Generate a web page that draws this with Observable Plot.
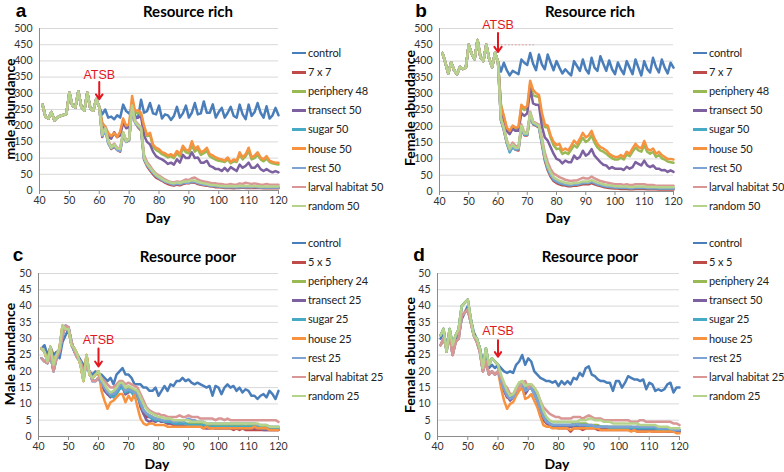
<!DOCTYPE html>
<html><head><meta charset="utf-8">
<script src="https://cdn.jsdelivr.net/npm/d3@7"></script>
<script src="https://cdn.jsdelivr.net/npm/@observablehq/plot@0.6"></script>
<style>
body{margin:0;background:#fff;}
#root{position:relative;width:784px;height:472px;overflow:hidden;font-family:Lato,sans-serif;color:#000;}
.abs{position:absolute;white-space:nowrap;}
.c{transform:translate(-50%,-50%);}
.letter{font-family:"Liberation Sans",Arial,sans-serif;font-weight:bold;font-size:19px;}
.title{font-weight:bold;font-size:15px;}
.ylab{font-weight:bold;font-size:14px;transform:translate(-50%,-50%) rotate(-90deg);}
.xlab{font-weight:bold;font-size:14px;}
.leg{font-size:11px;letter-spacing:-0.15px;line-height:14px;color:#222;}
.sw{display:inline-block;width:14px;height:2.5px;vertical-align:middle;margin-right:2px;position:relative;top:-1px;}
</style></head>
<body><div id="root"></div>
<script>
// ---------- shared axes ----------
const days = d3.range(41, 121);
const xTicks = [40, 50, 60, 70, 80, 90, 100, 110, 120];
const yTicksRich = [0, 50, 100, 150, 200, 250, 300, 350, 400, 450, 500];
const yTicksPoor = [0, 5, 10, 15, 20, 25, 30, 35, 40, 45, 50];
const colors = ["#4A7EBB", "#BE4B48", "#98B954", "#7D60A0", "#46AAC5", "#F69240", "#7FA2D4", "#D99694", "#B6D38C"];

const namesA = ["control", "7 x 7", "periphery 48", "transect 50", "sugar 50", "house 50", "rest 50", "larval habitat 50", "random 50"];
const namesB = namesA;
const namesC = ["control", "5 x 5", "periphery 24", "transect 25", "sugar 25", "house 25", "rest 25", "larval habitat 25", "random 25"];
const namesD = ["control", "5 x 5", "periphery 24", "transect 50", "sugar 25", "house 25", "rest 25", "larval habitat 25", "random 25"];

// ---------- panel a: male, resource rich (days 41-60 shared, then 61-120) ----------
const preA = [265,228,222,242,216,226,230,233,236,302,262,256,306,258,246,302,254,246,282,258];
const ctlA = [235,250,225,228,220,232,225,265,245,238, 255,230,225,280,240,245,270,238,235,262, 222,235,232,218,230,258,225,238,262,225, 240,270,235,238,275,240,240,266,225,242, 255,225,240,258,230,225,265,235,220,265, 230,242,270,240,225,260,222,232,255,232];
const r7A = [165,195,148,128,135,125,120,175,150,155, 255,210,195,185,95,75,62,50,40,35, 30,24,20,17,15,18,16,20,22,22, 25,24,20,18,16,15,13,12,10,10, 9,8,8,8,7,8,8,9,8,8, 8,8,8,8,7,7,7,7,7,7];
const perA = [210,195,170,165,175,165,178,215,198,200, 275,238,240,235,190,168,172,135,125,120, 112,108,102,106,100,115,105,130,118,115, 140,120,128,110,115,122,105,100,95,92, 90,88,96,84,90,88,110,96,105,122, 96,100,110,96,90,98,88,84,82,80];
const traA = [200,182,165,160,180,165,170,210,192,195, 262,222,226,228,170,150,142,120,106,100, 96,90,82,86,80,96,86,110,100,100, 118,100,102,86,86,92,76,72,66,66, 60,70,60,72,66,60,80,70,76,86, 70,70,80,66,60,66,60,56,60,56];
const sugA = [170,190,150,132,140,128,125,178,152,158, 258,212,200,190,100,80,68,55,45,40, 34,28,25,22,20,22,20,24,26,26, 28,28,25,22,20,18,16,15,14,13, 12,11,11,12,11,10,11,12,11,12, 11,12,11,10,10,10,10,10,10,10];
const houA = [205,198,178,168,178,165,182,222,200,205, 292,245,248,240,200,172,178,142,132,128, 118,115,108,112,106,122,112,138,126,122, 152,128,136,118,122,132,112,108,102,98, 96,92,102,88,96,92,118,102,112,132, 102,108,118,102,96,106,92,88,86,86];
const resA = [168,185,145,130,138,125,122,176,150,156, 256,208,198,188,98,78,66,54,44,38, 32,27,24,20,18,21,19,23,24,24, 27,26,23,20,18,17,15,14,13,12, 11,10,10,11,10,10,10,11,10,11, 10,11,10,9,9,9,9,9,9,9];
const larA = [175,195,155,135,145,132,130,180,155,160, 262,215,205,195,110,88,76,62,52,46, 40,34,30,26,25,28,26,30,34,32, 38,40,34,30,28,26,24,22,22,20, 20,18,18,20,18,18,22,20,24,22, 20,22,20,18,18,20,18,18,18,18];
const ranA = [172,192,152,132,142,130,128,180,152,158, 262,212,202,192,102,82,70,58,48,42, 36,30,27,24,22,25,23,27,28,28, 32,30,27,24,22,20,18,17,16,15, 14,13,13,14,13,13,14,15,14,14, 13,14,13,12,12,12,12,12,12,12];

// ---------- panel b: female, resource rich ----------
const preB = [425,395,362,396,372,360,382,376,380,450,422,406,465,412,400,450,406,382,425,398];
const ctlB = [368,395,372,356,370,365,360,405,395,388, 425,392,372,420,390,375,420,395,372,400, 380,362,375,365,356,400,385,370,405,375, 362,410,380,370,415,392,370,402,375,360, 396,375,360,400,380,360,405,380,356,400, 376,365,410,382,365,405,380,362,395,380];
const r7B = [218,188,148,124,138,128,126,196,172,172, 236,206,202,196,145,95,65,45,32,26, 22,19,18,16,16,18,18,20,22,22, 22,26,22,19,17,14,12,11,10,9, 9,8,8,8,7,7,8,8,8,8, 7,7,7,7,6,6,6,6,6,6];
const perB = [268,228,192,182,198,192,194,260,250,255, 330,295,292,290,232,198,196,165,142,130, 132,115,120,115,128,142,135,150,165,152, 158,172,150,135,126,122,116,108,102,98, 98,104,98,114,108,122,135,126,122,142, 122,116,122,106,112,102,98,92,90,88];
const traB = [256,215,186,176,192,186,186,240,232,240, 315,270,266,265,200,166,156,136,116,100, 96,86,95,90,90,110,100,106,125,110, 116,130,110,100,90,82,80,70,75,70, 70,70,66,76,70,75,90,85,80,95, 80,75,80,70,70,65,66,60,65,60];
const sugB = [220,190,150,120,136,128,130,198,174,174, 238,208,204,198,150,100,70,50,36,30, 26,23,21,19,19,21,21,23,26,26, 26,30,26,22,20,17,15,14,13,12, 12,11,11,11,10,10,11,11,11,11, 10,10,10,10,9,9,9,9,9,9];
const houB = [262,232,196,186,202,196,198,266,256,262, 340,312,302,296,242,206,202,172,152,142, 146,126,132,126,140,156,146,162,180,166, 172,186,162,146,136,132,126,116,110,106, 106,112,106,122,116,132,146,136,132,155, 132,126,132,116,122,112,106,100,100,98];
const resB = [222,192,152,125,140,130,130,200,176,176, 240,210,205,200,152,102,72,52,38,32, 28,25,23,21,20,22,22,24,27,27, 27,31,27,23,21,18,16,15,14,13, 13,12,12,12,11,11,12,12,12,12, 11,11,11,11,10,10,10,10,10,10];
const larB = [226,196,158,134,150,140,138,206,182,180, 245,215,210,205,165,120,90,68,55,50, 44,40,36,34,32,34,34,38,42,40, 40,46,40,36,32,30,28,26,24,22, 22,22,20,22,20,20,22,22,22,22, 20,20,20,18,18,18,18,18,18,18];
const ranB = [224,194,154,130,144,134,134,202,178,178, 242,212,207,202,158,108,78,58,44,38, 33,30,27,25,24,26,26,28,31,31, 31,35,31,27,25,22,20,19,18,16, 16,15,15,15,14,14,15,15,15,15, 14,14,14,14,13,13,13,13,13,13];

// ---------- panel c: male, resource poor ----------
const ctlC = [27,28,25,27.5,25,26,24,29,31,33, 28,26,25,23.5,22,21,20,19,20,19, 19,18,17,18,16,19,20,21,19,19, 18,16,16,16,15,15,14,14,15,12.5, 14,15.5,14,16,15.5,17,17,18,17,17.5, 16.5,16,16.5,16,15.5,15,15.5,12.5,15.5,15, 13,15,16,15,15.5,14,15,13.5,14.5,14, 12.5,12.5,11.5,12.5,13,12,14,13,11.5,14];
const preC1 = [27,26,23,27.5,22,25,27,34,33,33,28,27,25,22,17,25,19,18,19,20];
const preC2 = [24,23,22.5,25,20,24,26,31,34,33.5,29,26,24,23,20,21,20,17,17,18];
const r5C = [16,14.5,13,12.5,13,14,15,15.5,13,14, 14,13,13,9,7,6,6,5.5,5,5, 4.5,4.5,4,4,3.5,3.5,3.5,3,3,3, 3,3,3,3,2.5,2.5,2.5,2.5,2.5,2.5, 2.5,2.5,2.5,2.5,2,2.5,2,2.5,2,2, 2,2,2,2,2,2,2,2,2,2];
const perC = [17,15,14,13,13.5,14.5,16,16,14,15, 14.5,14,13.5,11,8,7,6.5,6,5.5,5.5, 5,5,4.5,5,4.5,4.5,4.5,4,4,4, 4,4,4,4,3.5,3.5,3.5,3.5,3.5,3.5, 3.5,3.5,3.5,3.5,3.5,3.5,3.5,3.5,3,3.5, 3.5,3.5,3.5,3,3,3,3,2.5,2.5,2.5];
const traC = [16,14,13,12,13,14,15,15,13,13.5, 14,12,13,10,7,5,4.5,5,4.5,5, 4.5,4.5,4,4,4,3.5,3.5,3.5,3,3, 3,3,3,3,3,2.5,2.5,3,2.5,2.5, 2.5,2.5,2.5,2.5,2.5,2.5,2.5,2.5,2.5,2.5, 2.5,2.5,2.5,2.5,2,2,2,2,2,2];
const sugC = [17,15,14,12.5,12,13,14.5,15,13.5,14, 13.5,12.5,12,10,8,7,6,5.5,5,5, 5,4.5,4.5,4.5,4,4,4,4,4,3.5, 3.5,3.5,3.5,3.5,3.5,3,3,3,3,3, 3,3,3,3,3,3,3,3,3,3, 3,3,3,2.5,2.5,2.5,2.5,2.5,2.5,2.5];
const houC = [14,11,8.5,10.5,11,12,13,13,10.5,12.5, 11,13,9,5.5,4,3.5,4,4,3.5,3.5, 3.5,3.5,3,3,3,3,3,3,3,3, 3,3,3,3,2.5,3,2.5,2.5,2.5,2.5, 2.5,2.5,2.5,2.5,2.5,2.5,2.5,2.5,2.5,2.5, 2.5,3,2.5,2.5,2.5,2.5,2,2,2,2];
const resC = [16.5,15,13.5,13,13,14,15.5,16,14,14.5, 14,13.5,13,10.5,8,7,6.5,6,5.5,5.5, 5,5,5,5,4.5,4.5,5,4.5,5,5.5, 5,5,4.5,4.5,4.5,4,4,4,4,4, 4,4,4,4,4,4,4,4,4,4, 4,4,3.5,3.5,3.5,3.5,3,3,3,3];
const larC = [18,17,16,15,15,16,17,17,16,16.5, 16,15.5,15,13,11,9,8,7.5,7,7, 6.5,6.5,6,6,6,6,6.5,6,6,6.5, 6,6,6,5.5,5.5,5.5,5.5,5.5,5,5.5, 5.5,5,5.5,5,5,5,5,5,5,5, 5,5,5,5,5,5,5,5,5,4.5];
const ranC = [17.5,16,14.5,13.5,14,15,16.5,16.5,15,15.5, 15,14.5,14,12,10,8.5,7.5,7,6.5,6, 6,5.5,5.5,5.5,5,5,5,5,5,5, 4.5,4.5,4.5,4.5,4.5,4,4,4,4,4, 4,4,4,4,4,4,4,4,4,4, 4,4,4,3.5,3.5,3.5,3,3,3,3];

// ---------- panel d: female, resource poor ----------
const ctlD = [30,32,28,32,27,30,31,36,38,40, 36,32,30,27,23,25,21,22,21,22, 21,20,19.5,20,19.5,22,23,25,22,24, 23,20,19,18,17.5,17,17,16.5,17,15.5, 17,16,17,16,18,17.5,19.5,18.5,21,21.5, 19,18.5,17.5,17,17,16.5,16.5,14,17,17, 15,16.5,18.5,18,17.5,17.5,17,17.5,14.5,16.5, 16,14,14.5,14,14.5,16,16.5,13.5,15,15];
const preD1 = [31,33,26,33,28,31,33,40,41,42,36,31,30,27,21,27,22,24,23,22];
const preD2 = [28,30,27,31,25,29,30,37,38,39,35,31,29,26,20,23,19,20,19,20];
const r5D = [17,14,12,11.5,12,14,16,16,14,15, 15,13.5,11,8,5,4,3.5,3,3,2.5, 2.5,2.5,2.5,1.5,2.5,2.5,2.5,2,2.5,2.5, 2.5,2.5,2,2,2,2,2,2,2,2, 2,2,2,2,2,1.5,1.5,1.5,1.5,2, 1.5,1.5,1.5,1.5,1.5,1.5,1.5,1.5,1.5,1.5];
const perD = [18,15,13,12,12.5,14.5,16.5,17,15,15.5, 15.5,14,12,9,6,4.5,4,3.5,3.5,3.5, 3.5,3.5,3.5,3.5,4,4,4,4,4,3.5, 3.5,3.5,3.5,3,3,3,3,3,3,3, 3,3,3,3,2.5,3,3,3,3,2.5, 2.5,2.5,2.5,2.5,2,2,2,2,2,2];
const traD = [17,14,12.5,11,12,14,15.5,16,13,14.5, 15,13,11,8.5,6,4.5,3.5,3,3,3, 3,3,3,3,3,3,3,3,3,3, 3,3,3,2.5,2.5,2.5,2.5,2.5,2.5,2.5, 2.5,2.5,2.5,2,2,2,2,2,2,2, 2,2,2,2,2,1.5,1.5,1.5,1.5,1.5];
const sugD = [18,15,13,12,12,14,16,16.5,14.5,15, 15,13.5,11.5,9,6.5,5,4,3.5,3.5,3.5, 3.5,3.5,3.5,3.5,3.5,3.5,3.5,3.5,3.5,3, 3,3,3,3,3,3,2.5,2.5,2.5,2.5, 2.5,2.5,2.5,2.5,2.5,2.5,2.5,2.5,2.5,2.5, 2.5,2.5,2,2,2,2,2,2,2,2];
const houD = [15,11,8.5,10,10.5,12.5,14,15,11.5,12, 13,11,9,6,3.5,3,3,2.5,2.5,2.5, 2.5,2.5,2.5,2,2.5,2.5,2.5,2.5,2.5,2.5, 2.5,2.5,2.5,2,2,2,2,2,2,2, 2,2,2,1.5,2,1.5,1.5,1.5,1.5,1.5, 1.5,1.5,1.5,1.5,1.5,1.5,1.5,1.5,1,1];
const resD = [17,14.5,12.5,11.5,12,14,15.5,16,14,14.5, 15,13,11,8.5,6,4.5,4,3.5,3.5,3.5, 3.5,3.5,3.5,3.5,3.5,4,3.5,3.5,3.5,3.5, 3.5,3,3,3,3,3,3,3,3,3, 3,3,3,3,3,3,3,3,3,3, 3,3,2.5,2.5,2.5,2.5,2.5,2,2,2];
const larD = [18,16,15,13,13,14,15,16.5,17,15, 16,15,13.5,11,9,8,7,6.5,6,6, 5.5,5.5,5.5,5.5,6,6,6,5.5,6,6.5, 6,5.5,5.5,5.5,5,5,5,5,5,5, 5,5,5,4.5,4.5,4.5,5,5,4.5,4.5, 4.5,4.5,4.5,4.5,4.5,4.5,4.5,4,4,3.5];
const ranD = [19,16.5,14,12.5,13,15,16.5,17,15.5,16, 16,15,13.5,11,8,6,5,4.5,4.5,4.5, 4.5,4.5,4.5,4.5,4.5,4.5,5,5,5,5.5, 5.5,5,5,5,4.5,4.5,4.5,4,4,4, 4,4,4,4,4,4,3.5,3.5,3.5,3.5, 3.5,3.5,3,3,3,3,2.5,2.5,2.5,2.5];

// ---------- annotation values (day of ATSB, text level, arrow from/to) ----------
const atsbDay = 60;
const atsbA = {text: 358, from: 335, to: 282};
const atsbB = {text: 510, from: 486, to: 428, dotted: 450, dottedEnd: 73};
const atsbC = {text: 29.5, from: 27, to: 21.5};
const atsbD = {text: 32.5, from: 29.5, to: 24.5};

// ---------- build ----------
const root = document.getElementById("root");
function addText(cls, txt, x, y) {
  const d = document.createElement("div");
  d.className = "abs " + cls;
  d.textContent = txt;
  d.style.left = x + "px"; d.style.top = y + "px";
  root.appendChild(d);
}

function makePanel(p) {
  const rows = [];
  p.names.forEach((n, k) => p.values[k].forEach((v, i) => rows.push({day: days[i], value: v, series: n})));
  const a = p.atsb;
  const marks = [
    Plot.gridY(p.yTicks, {stroke: "#d9d9d9", strokeOpacity: 1}),
    Plot.ruleY([0], {stroke: "#8c8c8c"}),
    Plot.ruleX([40], {stroke: "#8c8c8c"}),
    Plot.axisY(p.yTicks, {tickSize: 0, tickPadding: 7, label: null, fill: "#333", fontSize: 10.5}),
    Plot.axisX(xTicks, {tickSize: 4, tickPadding: 2, label: null, stroke: "#8c8c8c", fill: "#333", fontSize: 10.5}),
    Plot.line(rows, {x: "day", y: "value", z: "series", stroke: "series", strokeWidth: 2.5, strokeLinejoin: "round"})
  ];
  if (a.dotted !== undefined) {
    marks.push(Plot.ruleY([a.dotted], {x1: atsbDay, x2: a.dottedEnd, stroke: "#e0484d", strokeOpacity: 0.45, strokeDasharray: "1.5,2"}));
  }
  marks.push(Plot.text([a], {x: () => atsbDay, y: "text", text: () => "ATSB", fill: "#e3171f", fontSize: 12.5, fontFamily: "Liberation Sans, Arial, sans-serif"}));
  marks.push(Plot.arrow([a], {x1: () => atsbDay, x2: () => atsbDay, y1: "from", y2: "to", stroke: "#e3171f", strokeWidth: 2, headLength: 7, headAngle: 70}));
  const svg = Plot.plot({
    width: p.g.w, height: p.g.h,
    marginLeft: p.g.ml, marginRight: p.g.mr, marginTop: p.g.mt, marginBottom: p.g.mb,
    x: {domain: [40, 120]},
    y: {domain: [0, p.yMax]},
    color: {domain: p.names, range: colors},
    style: {fontFamily: "Lato, sans-serif", background: "transparent", overflow: "visible"},
    marks
  });
  svg.style.position = "absolute";
  svg.style.left = p.g.left + "px";
  svg.style.top = p.g.top + "px";
  root.appendChild(svg);

  // legend
  p.names.forEach((n, k) => {
    const d = document.createElement("div");
    d.className = "abs leg";
    d.style.left = p.leg.x + "px";
    d.style.top = (p.leg.y + k * 19.1 - 7) + "px";
    const s = document.createElement("span");
    s.className = "sw"; s.style.background = colors[k];
    d.appendChild(s);
    d.appendChild(document.createTextNode(n));
    root.appendChild(d);
  });
}

makePanel({
  names: namesA, yTicks: yTicksRich, yMax: 500, atsb: atsbA,
  values: [ctlA, r7A, perA, traA, sugA, houA, resA, larA, ranA].map(s => preA.concat(s)),
  g: {left: 0, top: 0, w: 290, h: 215, ml: 39, mr: 12, mt: 28, mb: 25},
  leg: {x: 292, y: 53}
});
makePanel({
  names: namesB, yTicks: yTicksRich, yMax: 500, atsb: atsbB,
  values: [ctlB, r7B, perB, traB, sugB, houB, resB, larB, ranB].map(s => preB.concat(s)),
  g: {left: 395, top: 0, w: 295, h: 215, ml: 44, mr: 17, mt: 28, mb: 24},
  leg: {x: 693, y: 53}
});
makePanel({
  names: namesC, yTicks: yTicksPoor, yMax: 50, atsb: atsbC,
  values: [ctlC, preC1.concat(r5C), preC1.concat(perC), preC2.concat(traC), preC2.concat(sugC), preC1.concat(houC), preC2.concat(resC), preC2.concat(larC), preC1.concat(ranC)],
  g: {left: 0, top: 245, w: 290, h: 215, ml: 38, mr: 12, mt: 28, mb: 24},
  leg: {x: 292, y: 243}
});
makePanel({
  names: namesD, yTicks: yTicksPoor, yMax: 50, atsb: atsbD,
  values: [ctlD, preD1.concat(r5D), preD1.concat(perD), preD2.concat(traD), preD1.concat(sugD), preD2.concat(houD), preD2.concat(resD), preD2.concat(larD), preD1.concat(ranD)],
  g: {left: 395, top: 245, w: 295, h: 215, ml: 42, mr: 11, mt: 28, mb: 24},
  leg: {x: 693, y: 243}
});

// panel letters, titles, axis titles
addText("letter c", "a", 21, 11);
addText("letter c", "b", 421, 11);
addText("letter c", "c", 18, 255);
addText("letter c", "d", 419, 255);
addText("title c", "Resource rich", 188, 11);
addText("title c", "Resource rich", 590, 11);
addText("title c", "Resource poor", 188, 256);
addText("title c", "Resource poor", 590, 256);
addText("ylab", "male abundance", 9, 109);
addText("ylab", "Female abundance", 409, 108);
addText("ylab", "Male abundance", 9, 354);
addText("ylab", "Female abundance", 409, 355);
addText("xlab c", "Day", 158, 217);
addText("xlab c", "Day", 558, 217);
addText("xlab c", "Day", 157, 463);
addText("xlab c", "Day", 557, 463);
</script>
</body></html>
